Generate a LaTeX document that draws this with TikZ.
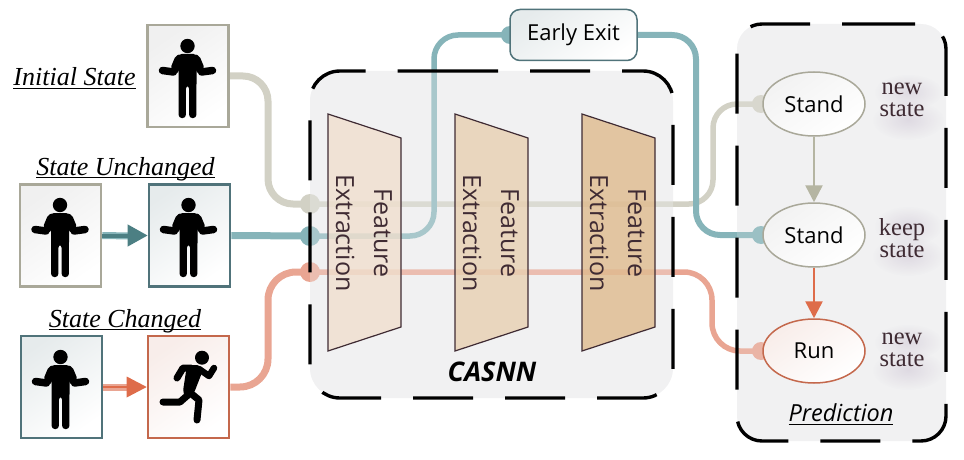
\documentclass[tikz,border=0pt]{standalone}
\usepackage{fontspec}
\setmainfont{Open Sans}
\newfontfamily\serifx{Liberation Serif}
\usetikzlibrary{shapes.geometric,arrows.meta,fadings}
\pgfdeclarelayer{bgp}
\pgfdeclarelayer{conn}
\pgfdeclarelayer{over}
\pgfsetlayers{bgp,conn,over,main}
\definecolor{greyL}{HTML}{D2D1C5}
\definecolor{greyB}{HTML}{A9A899}
\definecolor{greyA}{HTML}{B5B5A2}
\definecolor{tealL}{HTML}{86B4B9}
\definecolor{tealB}{HTML}{50737A}
\definecolor{tealA}{HTML}{4C7F83}
\definecolor{redL}{HTML}{E9A592}
\definecolor{redB}{HTML}{C4684C}
\definecolor{redA}{HTML}{DE6C4A}
\definecolor{panel}{HTML}{F1F1F2}
\definecolor{inkx}{HTML}{3F2B33}
\definecolor{smx}{HTML}{6A4A80}
\definecolor{trA}{HTML}{F0DFCD}
\definecolor{trB}{HTML}{E8CFB0}
\definecolor{trC}{HTML}{DFB98B}
\newcommand{\ulx}[1]{\setbox0=\hbox{#1}\rlap{\rule[-3.2pt]{\wd0}{1pt}}\box0}
\tikzfading[name=softx,inner color=transparent!55,outer color=transparent!100]
\tikzset{
  x=1pt,y=-1pt,
  imgbox/.style={draw=#1,line width=2.6pt,minimum width=81pt,minimum height=102pt,inner sep=0pt},
  tintg/.style={shading=axis,top color=#1,middle color=white,bottom color=white,shading angle=35},
  pnl/.style={fill=panel,rounded corners=#1},
  pnlb/.style={draw=black,line width=3.4pt,dash pattern=on 60pt off 32pt,rounded corners=#1},
  trap/.style={draw=inkx,line width=1.2pt,fill opacity=.78},
  trtxt/.style={rotate=-90,align=center,text=inkx,font=\fontsize{25}{38}\selectfont,inner sep=0pt},
  thick line/.style={line width=7pt},
  thin line/.style={line width=5.5pt,rounded corners=24pt},
  dotx/.style={fill=#1,circle,minimum size=20pt,inner sep=0pt},
  enddot/.style={fill=#1,circle,minimum size=18pt,inner sep=0pt},
  statex/.style={ellipse,draw=#1,line width=1.5pt,minimum width=102pt,minimum height=64pt,inner sep=0pt,font=\fontsize{22}{26}\selectfont},
  arrx/.style={draw=#1,line width=2.6pt,-{Triangle[length=17pt,width=17pt,fill=#1]}},
  arrb/.style={draw=#1,line width=4pt,-{Triangle[length=20pt,width=21pt,fill=#1]}},
  note/.style={font=\serifx\fontsize{24.5}{22}\selectfont,text=inkx,align=center,inner sep=0pt},
  capt/.style={font=\serifx\itshape\fontsize{26}{28}\selectfont,inner sep=0pt},
  smudge/.style={fill=smx,opacity=.3,path fading=softx},
  manpic/.pic={
    \fill (0,22) circle (7.2);
    \fill[rounded corners=3pt] (-9,30) -- (9,30) -- (9,62) -- (8.8,94) -- (1.7,94) -- (1.7,62) -- (-1.7,62) -- (-1.7,94) -- (-8.8,94) -- (-9,62) -- cycle;
    \fill[rounded corners=2pt] (-7,30) -- (-12,32) -- (-17,44) -- (-12,50) -- (-8,47) -- cycle;
    \fill[rounded corners=2pt] (7,30) -- (12,32) -- (17,44) -- (12,50) -- (8,47) -- cycle;
    \draw[line width=7.5pt,line cap=round] (-14,48) -- (-25,46.5);
    \draw[line width=7.5pt,line cap=round] (14,48) -- (25,46.5);
  },
  runpic/.pic={
    \fill (55,22.7) circle (7);
    \fill[rounded corners=2pt] (40,30) -- (52,30) -- (56,35) -- (47,58) -- (38,62) -- (36,56) -- cycle;
    \draw[line width=7pt,line cap=round,line join=round] (44,33) -- (36,33) -- (30,43);
    \draw[line width=6.5pt,line cap=round,line join=round] (52,34) -- (62,41) -- (67,33);
    \draw[line width=7pt,line cap=round,line join=round] (41,60) -- (33,67) -- (16,67);
    \draw[line width=7pt,line cap=round,line join=round] (41,56) -- (52,65) -- (50,85);
  }
}
\begin{document}
\begin{tikzpicture}
\useasboundingbox (0,0) rectangle (964,460);
% image boxes
\node[imgbox=greyB,tintg=black!6] (init) at (188,76) {};
\node[imgbox=greyB,tintg=black!6] (ul) at (60.5,235.5) {};
\node[imgbox=tealB,tintg=tealB!14] (ur) at (189.5,235.5) {};
\node[imgbox=tealB,tintg=tealB!14] (cl) at (61.5,387) {};
\node[imgbox=redB,tintg=redB!12] (cr) at (188.5,387) {};
\pic at (187.5,24) {manpic};
\pic at (60,183) {manpic};
\pic at (188.5,183) {manpic};
\pic at (60.5,335) {manpic};
\pic at (147,335) {runpic};
% states and exit
\coordinate (gd) at (310,204);
\coordinate (bd) at (310,236);
\coordinate (rd) at (310,272);
\node[statex=greyB,tintg=black!5] (s1) at (814,104) {Stand};
\node[statex=greyB,tintg=black!5] (s2) at (814,235) {Stand};
\node[statex=redB,tintg=redB!12] (s3) at (814,351) {Run};
\node[draw=tealB,line width=1.5pt,rounded corners=10pt,minimum width=127pt,minimum height=51pt,inner sep=0pt,tintg=tealB!14,font=\fontsize{22}{26}\selectfont] (ee) at (573.5,35) {Early Exit};
\begin{pgfonlayer}{bgp}
\path[pnl=30pt] (310,71) rectangle (673,398);
\path[pnl=25pt] (737,24) rectangle (946,441);
\end{pgfonlayer}
\begin{pgfonlayer}{conn}
\draw[greyL,thick line,rounded corners=25pt] (init.east) -- (268,76) -- (268,204) -- (gd);
\draw[tealL,line width=7pt] (ur.east) -- (bd);
\draw[redL,thick line,rounded corners=28pt] (cr.east) -- (268,387) -- (268,272) -- (rd);
\draw[greyL,thin line] (gd) -- (713,204) -- (713,104) -- (s1.west);
\draw[tealL,thin line] (bd) -- (434,236) -- (434,35) -- (ee.west);
\draw[tealL,thin line,line width=6pt] (ee.east) -- (696,35) -- (696,235) -- (s2.west);
\draw[redL,thin line,rounded corners=28pt] (rd) -- (712,272) -- (712,351) -- (s3.west);
\node[dotx=greyL] (gdn) at (gd) {};
\node[dotx=tealL] (bdn) at (bd) {};
\node[dotx=redL] (rdn) at (rd) {};
\node[enddot=greyL] (d1) at (761,104) {};
\node[enddot=tealL] (d2) at (761,235) {};
\node[enddot=redL] (d3) at (761,351) {};
\node[enddot=tealL] (d4) at (510,35) {};
\end{pgfonlayer}
\begin{pgfonlayer}{over}
\path[pnl=30pt,opacity=.32] (310,71) rectangle (673,398);
\path[pnl=25pt,opacity=.2] (737,24) rectangle (946,441);
\path[trap,fill=trA] (328,114) -- (401,138) -- (401,327) -- (328,351) -- cycle;
\path[trap,fill=trB] (455,114) -- (528,138) -- (528,327) -- (455,351) -- cycle;
\path[trap,fill=trC] (582,114) -- (655,138) -- (655,327) -- (582,351) -- cycle;
\draw[pnlb=30pt] (408,71) -- (673,71) -- (673,398) -- (310,398) -- (310,71) -- cycle;
\draw[pnlb=25pt] (830,24) -- (946,24) -- (946,441) -- (737,441) -- (737,24) -- cycle;
\end{pgfonlayer}
\node[trtxt] (fe1) at (364,233) {Feature\\Extraction};
\node[trtxt] (fe2) at (491,233) {Feature\\Extraction};
\node[trtxt] (fe3) at (618,233) {Feature\\Extraction};
% small arrows
\draw[tealL,line width=7pt] (ul.east) -- (130,236);
\draw[arrb=tealA] (ul.east) -- (ur.west);
\draw[redL,line width=7pt] (cl.east) -- (130,387);
\draw[redA,line width=2.5pt] (cl.east) -- (130,387);
\draw[arrb=redA,line width=0pt] (125,387) -- (cr.west);
\draw[arrx=greyA] (s1) -- (s2);
\draw[arrx=redA] (s2) -- (s3);
% notes
\fill[smudge] (908,92) ellipse (34 and 18);
\fill[smudge] (908,120) ellipse (36 and 20);
\fill[smudge] (908,226) ellipse (34 and 20);
\fill[smudge] (908,256) ellipse (36 and 20);
\fill[smudge] (908,342) ellipse (34 and 18);
\fill[smudge] (908,370) ellipse (36 and 20);
\node[note] (n1) at (902,100) {new\\state};
\node[note] (n2) at (902,238) {keep\\state};
\node[note] (n3) at (902,350) {new\\state};
% captions
\node[capt] (c1) at (74.5,78) {\ulx{Initial State}};
\node[capt] (c2) at (125.5,169) {\ulx{State Unchanged}};
\node[capt] (c3) at (125,321) {\ulx{State Changed}};
\node[font=\itshape\bfseries\fontsize{27}{30}\selectfont,inner sep=0pt] (c4) at (492,372) {CASNN};
\node[font=\itshape\fontsize{23.5}{26}\selectfont,inner sep=0pt] (c5) at (841,414) {\ulx{Prediction}};
\end{tikzpicture}
\end{document}
